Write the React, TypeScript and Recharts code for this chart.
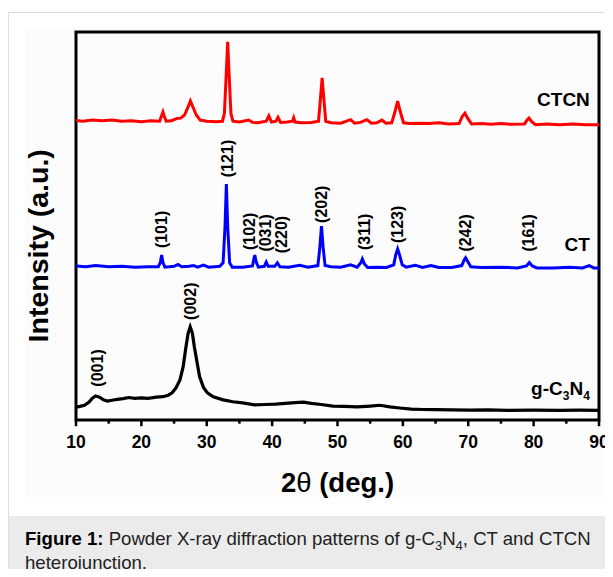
import React from "react";
import { LineChart, Line, XAxis, YAxis, ReferenceArea, ReferenceDot, ReferenceLine } from "recharts";

// 2θ (deg), stacked intensity (a.u., display units 0-100)
const gcn: [number, number][] = [
  [10, 3.3], [10.6, 3.5], [11.3, 3.8], [12.0, 4.6], [12.5, 5.6], [13.0, 6.2], [13.6, 5.9], [14.2, 5.2],
  [14.8, 4.9], [15.5, 5.1], [16.3, 5.3], [17.2, 5.5], [18.1, 5.8], [19.0, 5.6], [20.0, 5.7], [21.0, 5.6],
  [22.3, 5.9], [23.3, 6.0], [24.1, 6.4], [24.7, 7.0], [25.3, 8.3], [25.9, 10.3], [26.4, 13.8], [26.8, 18.6],
  [27.15, 22.3], [27.47, 24.0], [27.8, 22.4], [28.1, 18.9], [28.5, 15.0], [28.9, 11.2], [29.5, 8.4],
  [30.1, 7.0], [31.0, 6.0], [32.5, 5.2], [34.0, 4.7], [35.5, 4.4], [37.3, 3.9], [39.0, 4.0], [40.5, 4.1],
  [42.0, 4.3], [43.5, 4.5], [44.8, 4.6], [46.0, 4.3], [47.5, 4.0], [49.3, 3.6], [51.0, 3.5], [53.0, 3.4],
  [55.0, 3.6], [56.5, 3.8], [58.0, 3.4], [59.5, 3.1], [61.3, 2.8], [63.0, 2.7], [65.0, 2.65], [67.5, 2.6],
  [70.2, 2.55], [73.0, 2.6], [76.0, 2.5], [80.0, 2.55], [84.0, 2.5], [87.0, 2.55], [90, 2.5],
];

const ct: [number, number][] = [
  [10, 39.7], [11.5, 39.5], [13, 39.8], [15, 39.5], [17, 39.6], [19, 39.4], [21, 39.5], [22.6, 39.5],
  [22.9, 40.6], [23.1, 42.5], [23.3, 40.6], [23.6, 39.4], [25.0, 39.6], [25.6, 40.1], [26.2, 39.5],
  [27.3, 39.6], [28.0, 39.8], [28.6, 39.4], [29.5, 39.9], [30.3, 39.4], [32.0, 39.6], [32.5, 40.5],
  [32.8, 50], [33.0, 60.8], [33.2, 50], [33.5, 40.5], [33.9, 39.4], [35.5, 39.4], [37.0, 39.7],
  [37.2, 41.5], [37.35, 42.5], [37.55, 40.8], [37.9, 39.4], [38.8, 39.6], [39.1, 40.7], [39.4, 39.6],
  [40.4, 39.6], [40.8, 40.5], [41.2, 39.5], [42.5, 39.4], [44.2, 39.9], [45.5, 39.4], [47.0, 39.8],
  [47.3, 44.5], [47.55, 50.0], [47.8, 44.5], [48.1, 39.8], [49.0, 39.5], [50.5, 39.4], [52.0, 40.0],
  [53.0, 39.4], [53.6, 40.6], [53.8, 41.5], [54.1, 40.3], [54.6, 39.3], [56, 39.4], [57.5, 39.3],
  [58.6, 40.0], [58.9, 42.5], [59.2, 44.1], [59.5, 42.5], [59.9, 40.0], [60.5, 39.4], [61.9, 39.9],
  [63, 39.3], [64.3, 39.8], [65.5, 39.3], [67.5, 39.3], [69.0, 39.8], [69.4, 41.3], [69.6, 41.8],
  [69.9, 40.9], [70.4, 39.5], [72, 39.3], [75, 39.4], [77.5, 39.2], [78.9, 39.7], [79.35, 40.6],
  [79.8, 39.7], [80.5, 39.2], [83, 39.2], [85.5, 39.4], [87.5, 39.2], [88.5, 39.8], [89.2, 39.2], [90, 39.2],
];

const ctcn: [number, number][] = [
  [10, 77.2], [11, 77.0], [12.5, 77.3], [14, 77.1], [15.5, 77.3], [17, 77.0], [18.5, 77.1], [20, 76.9],
  [21.5, 77.1], [22.8, 77.0], [23.1, 78.5], [23.3, 79.4], [23.5, 78.3], [23.8, 77.0], [24.6, 77.1],
  [25.4, 77.7], [26.0, 77.8], [26.6, 78.6], [27.1, 80.5], [27.5, 82.2], [27.9, 80.6], [28.4, 78.6],
  [29.0, 77.3], [30, 77.0], [31.5, 76.9], [32.4, 77.0], [32.7, 79.0], [32.95, 88], [33.2, 97.5],
  [33.45, 88], [33.7, 79], [34.0, 77.0], [35, 76.8], [36.4, 77.3], [37.0, 76.7], [37.8, 76.6],
  [39.1, 77.0], [39.5, 78.4], [39.9, 76.8], [40.6, 77.0], [40.9, 78.0], [41.3, 76.7], [42.3, 76.8],
  [43.1, 77.0], [43.3, 77.9], [43.5, 76.8], [44.5, 76.6], [46.0, 76.7], [47.1, 77.0], [47.4, 83],
  [47.65, 88.2], [47.9, 83], [48.2, 77.0], [49, 76.6], [50.5, 76.5], [52.0, 77.4], [52.6, 76.5],
  [53.5, 76.7], [54.5, 77.4], [55.2, 76.5], [56.0, 76.6], [56.8, 77.3], [57.4, 76.5], [58.3, 76.6],
  [58.8, 79.5], [59.2, 82.2], [59.6, 79.5], [60.1, 76.6], [61, 76.4], [62.5, 76.5], [64, 76.4],
  [65.5, 76.6], [67, 76.3], [68.6, 76.4], [69.1, 78.3], [69.5, 79.1], [69.9, 77.8], [70.5, 76.3],
  [72, 76.4], [73.5, 76.2], [75, 76.4], [76.5, 76.2], [78.6, 76.3], [79.0, 77.3], [79.3, 77.8],
  [79.7, 76.9], [80.3, 76.1], [82, 76.3], [84, 76.1], [86, 76.3], [88, 76.1], [90, 76.1],
];

// Miller indices: label, 2θ, intensity where the rotated text starts
const planes: [string, number, number][] = [
  ["(001)", 13.3, 8.6], ["(002)", 27.5, 25.8], ["(101)", 23.1, 44.3], ["(121)", 33.2, 62.6],
  ["(102)", 36.5, 43.8], ["(031)", 39.0, 43.4], ["(220)", 41.4, 43.0], ["(202)", 47.55, 50.8],
  ["(311)", 54.1, 43.8], ["(123)", 59.2, 45.6], ["(242)", 69.6, 43.4], ["(161)", 79.2, 43.4],
];

const majorTicks = [10, 20, 30, 40, 50, 60, 70, 80, 90];
const minorTicks = [15, 25, 35, 45, 55, 65, 75, 85];

const FONT = "'Liberation Sans', Arial, sans-serif";

const toRows = (pts: [number, number][]) => pts.map(([x, y]) => ({ x, y }));

function XTick(props: any) {
  const { x, y, payload } = props;
  return (
    <text x={x} y={y + 28} textAnchor="middle" fontFamily={FONT} fontWeight="bold" fontSize={17.5} fill="#000">
      {payload.value}
    </text>
  );
}

function PlaneLabel(text: string) {
  return (p: any) => (
    <text
      x={p.cx}
      y={p.cy}
      dy="0.36em"
      transform={`rotate(-90 ${p.cx} ${p.cy})`}
      textAnchor="start"
      fontFamily={FONT}
      fontWeight="bold"
      fontSize={16}
      fill="#000"
    >
      {text}
    </text>
  );
}

function SeriesName(content: React.ReactNode) {
  return (p: any) => (
    <text x={p.cx} y={p.cy} textAnchor="end" fontFamily={FONT} fontWeight="bold" fontSize={19} fill="#000">
      {content}
    </text>
  );
}

function XTitle(p: any) {
  return (
    <text x={p.cx} y={p.cy + 72} textAnchor="middle" fontFamily={FONT} fontWeight="bold" fontSize={27.5} fill="#000">
      2<tspan fontWeight="normal">θ</tspan> (deg.)
    </text>
  );
}

function YTitle(p: any) {
  const cx = p.cx - 28;
  const cy = p.cy;
  return (
    <text x={cx} y={cy} transform={`rotate(-90 ${cx} ${cy})`} textAnchor="middle" fontFamily={FONT} fontWeight="bold" fontSize={28.5} fill="#000">
      Intensity (a.u.)
    </text>
  );
}

export default function App() {
  return (
    <div style={{ position: "relative", width: 613, height: 577, margin: -8, overflow: "hidden", background: "#fff" }}>
      <div style={{ position: "absolute", left: 8, top: 12, width: 640, height: 620, border: "1px solid #dedede" }} />
      <div style={{ position: "absolute", left: 25, top: 29, width: 600, height: 468, background: "#fcfcfc" }} />
      <div style={{ position: "absolute", left: 0, top: 0 }}>
        <LineChart width={613} height={515} margin={{ top: 32, right: 14, left: 76, bottom: 20 }}>
          <XAxis
            dataKey="x"
            type="number"
            domain={[10, 90]}
            ticks={majorTicks}
            interval={0}
            tick={<XTick />}
            tickLine={false}
            axisLine={false}
            tickSize={0}
            tickMargin={0}
            height={75}
            allowDataOverflow
          />
          <YAxis type="number" domain={[0, 100]} width={0} tick={false} tickLine={false} axisLine={false} allowDataOverflow />
          <Line data={toRows(gcn)} dataKey="y" type="linear" stroke="#000" strokeWidth={3.2} dot={false} isAnimationActive={false} />
          <Line data={toRows(ct)} dataKey="y" type="linear" stroke="#0000ff" strokeWidth={3} dot={false} isAnimationActive={false} />
          <Line data={toRows(ctcn)} dataKey="y" type="linear" stroke="#ff0000" strokeWidth={3} dot={false} isAnimationActive={false} />
          <ReferenceArea x1={10} x2={90} y1={0} y2={100} fill="none" stroke="#000" strokeWidth={3} />
          {majorTicks.map((v) => (
            <ReferenceLine key={`M${v}`} segment={[{ x: v, y: 0 }, { x: v, y: -1.6 }]} stroke="#000" strokeWidth={2.5} ifOverflow="visible" />
          ))}
          {minorTicks.map((v) => (
            <ReferenceLine key={`m${v}`} segment={[{ x: v, y: 0 }, { x: v, y: -0.95 }]} stroke="#000" strokeWidth={2.5} ifOverflow="visible" />
          ))}
          {planes.map(([t, x, y]) => (
            <ReferenceDot key={t} x={x} y={y} r={0} shape={PlaneLabel(t)} />
          ))}
          <ReferenceDot x={88.6} y={80.9} r={0} shape={SeriesName("CTCN")} />
          <ReferenceDot x={88.6} y={43.6} r={0} shape={SeriesName("CT")} />
          <ReferenceDot
            x={88.6}
            y={6.4}
            r={0}
            shape={SeriesName(
              <>
                g-C<tspan dy={5} fontSize={12}>3</tspan>
                <tspan dy={-5}>N</tspan>
                <tspan dy={5} fontSize={12}>4</tspan>
              </>
            )}
          />
          <ReferenceDot x={50} y={0} r={0} shape={XTitle} ifOverflow="visible" />
          <ReferenceDot x={10} y={44.9} r={0} shape={YTitle} ifOverflow="visible" />
        </LineChart>
      </div>
      <div
        style={{
          position: "absolute",
          left: 9,
          top: 516,
          width: 640,
          height: 80,
          background: "#ebebeb",
        }}
      />
      <div
        style={{
          position: "absolute",
          left: 25,
          top: 527,
          fontFamily: FONT,
          fontSize: 18.6,
          lineHeight: "24px",
          color: "#222",
          whiteSpace: "nowrap",
        }}
      >
        <b style={{ color: "#000" }}>Figure 1:</b> Powder X-ray diffraction patterns of g-C
        <sub style={{ fontSize: 13, lineHeight: 0 }}>3</sub>N<sub style={{ fontSize: 13, lineHeight: 0 }}>4</sub>, CT and CTCN
        <br />
        heterojunction.
      </div>
    </div>
  );
}
